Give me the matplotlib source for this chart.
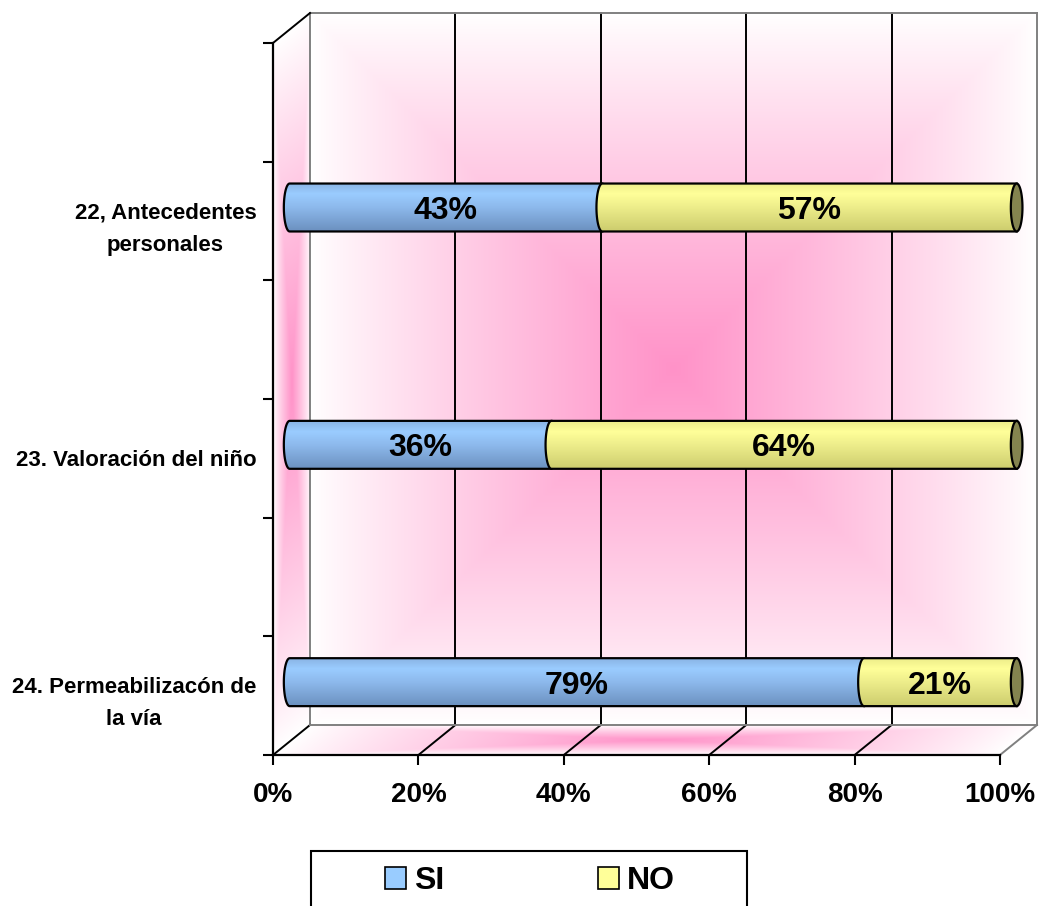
import numpy as np
import matplotlib
matplotlib.use("Agg")
import matplotlib.pyplot as plt
from matplotlib.path import Path
from matplotlib.patches import PathPatch, Patch, Rectangle
from matplotlib.transforms import Affine2D
from matplotlib.colors import LinearSegmentedColormap, to_rgb

# --- data ---
categories = ["24. Permeabilizacón de\nla vía",
              "23. Valoración del niño",
              "22, Antecedentes\npersonales"]
si_pct = [79, 36, 43]
no_pct = [21, 64, 57]
series_names = ["SI", "NO"]
x_ticks = [0, 20, 40, 60, 80, 100]

FONT = "Liberation Sans"

# --- 3d look ---
DX, DY = 5.09, 0.1264      # depth of the box, in data units
BAR_F = 0.45               # bars sit at this fraction of the depth
HALF_H = 0.101             # half thickness of a bar
CAP = 0.8                  # horizontal semi-axis of the cylinder ends
YLO, YHI = -0.25, 2.75

PINK = np.array(to_rgb("#FF92C8"))
WHITE = np.ones(3)


def wall_gradient(n=200):
    u = np.linspace(-1, 1, n)
    uu, vv = np.meshgrid(u, u)
    t = np.maximum(np.abs(uu), np.abs(vv))
    w = np.clip(1 - t, 0, 1) ** 0.9
    return WHITE * (1 - w[..., None]) + PINK * w[..., None]


fig = plt.figure(figsize=(10.39, 9.06), dpi=100)
ax = fig.add_axes([273 / 1039, 151 / 906, 727 / 1039, 712 / 906])
ax.patch.set_visible(False)

grad = wall_gradient()


def wall(matrix, corners):
    im = ax.imshow(grad, extent=(0, 1, 0, 1), zorder=0, interpolation="bilinear",
                   transform=Affine2D(np.array(matrix)) + ax.transData)
    im.set_clip_box(fig.bbox)
    im.set_clip_path(Path(corners + [corners[0]], closed=True), ax.transData)


# back wall, side wall, floor
wall([[100, 0, DX], [0, YHI - YLO, YLO + DY], [0, 0, 1]],
     [(DX, YLO + DY), (100 + DX, YLO + DY), (100 + DX, YHI + DY), (DX, YHI + DY)])
wall([[DX, 0, 0], [DY, YHI - YLO, YLO], [0, 0, 1]],
     [(0, YLO), (DX, YLO + DY), (DX, YHI + DY), (0, YHI)])
wall([[100, DX, 0], [0, DY, YLO], [0, 0, 1]],
     [(0, YLO), (100, YLO), (100 + DX, YLO + DY), (DX, YLO + DY)])

# grid on the back wall and floor
for x in x_ticks:
    c = "#808080" if x in (0, 100) else "black"
    ax.plot([x + DX, x + DX], [YLO + DY, YHI + DY], color=c, lw=1.4,
            zorder=1, clip_on=False)
    fc = "#808080" if x == 100 else "black"
    ax.plot([x, x + DX], [YLO, YLO + DY], color=fc, lw=1.4, zorder=1, clip_on=False)
ax.plot([DX, 100 + DX], [YHI + DY, YHI + DY], color="#808080", lw=1.4, zorder=1, clip_on=False)
ax.plot([DX, 100 + DX], [YLO + DY, YLO + DY], color="#808080", lw=1.4, zorder=1, clip_on=False)
ax.plot([0, DX], [YHI, YHI + DY], color="black", lw=1.4, zorder=1, clip_on=False)

blue_cmap = LinearSegmentedColormap.from_list(
    "blue", [(0, "#8AB4E4"), (0.22, "#9ACCFF"), (0.5, "#8DB9EC"), (1, "#6C91C0")])
yellow_cmap = LinearSegmentedColormap.from_list(
    "yellow", [(0, "#EDED8A"), (0.22, "#FFFF99"), (0.55, "#EAEA88"), (1, "#CDCD6E")])
vert = np.linspace(0, 1, 100)[:, None] * np.ones((1, 2))


def segment_path(x0, x1, yc):
    th = np.linspace(np.pi / 2, 3 * np.pi / 2, 30)
    left = np.column_stack([x0 + CAP * np.cos(th), yc + HALF_H * np.sin(th)])
    pts = np.vstack([[[x1, yc + HALF_H]], left, [[x1, yc - HALF_H]], [[x1, yc + HALF_H]]])
    codes = [Path.MOVETO] + [Path.LINETO] * (len(pts) - 2) + [Path.CLOSEPOLY]
    return Path(pts, codes)


def draw_segment(x0, x1, yc, cmap, z):
    patch = PathPatch(segment_path(x0, x1, yc), facecolor="none", edgecolor="black",
                      lw=1.6, zorder=z + 0.5, clip_on=False)
    ax.add_patch(patch)
    im = ax.imshow(vert, cmap=cmap, vmin=0, vmax=1, aspect="auto",
                   extent=(x0 - CAP, x1, yc - HALF_H, yc + HALF_H),
                   zorder=z, interpolation="bilinear")
    im.set_clip_box(fig.bbox)
    im.set_clip_path(patch)


for i, (s, n) in enumerate(zip(si_pct, no_pct)):
    yc = i + BAR_F * DY
    xs = BAR_F * DX
    draw_segment(xs, xs + s, yc, blue_cmap, 3)
    draw_segment(xs + s, xs + s + n, yc, yellow_cmap, 4)
    th = np.linspace(0, 2 * np.pi, 60)
    cap_pts = np.column_stack([xs + s + n + CAP * np.cos(th), yc + HALF_H * np.sin(th)])
    ax.add_patch(PathPatch(Path(cap_pts, closed=True), facecolor="#84844F",
                           edgecolor="black", lw=1.6, zorder=5, clip_on=False))
    ax.text(xs + s / 2, yc, f"{s}%", ha="center", va="center_baseline",
            fontsize=23, fontweight="bold", family=FONT, zorder=6)
    ax.text(xs + s + n / 2, yc, f"{n}%", ha="center", va="center_baseline",
            fontsize=23, fontweight="bold", family=FONT, zorder=6)

ax.set_xlim(0, 100)
ax.set_ylim(YLO, YHI)

# axes, ticks and labels
for side_name in ("top", "right"):
    ax.spines[side_name].set_visible(False)
for side_name in ("left", "bottom"):
    ax.spines[side_name].set_linewidth(1.6)
    ax.spines[side_name].set_zorder(2)

ax.set_xticks(x_ticks)
ax.set_xticklabels([f"{x}%" for x in x_ticks], fontsize=20,
                   fontweight="bold", family=FONT)
ax.tick_params(axis="x", length=7.2, width=1.5, pad=12)

ax.set_yticks(range(len(categories)))
ax.set_yticklabels(categories, fontsize=16, fontweight="bold", family=FONT,
                   linespacing=1.7)
for lab in ax.get_yticklabels():
    lab.set_multialignment("center")
ax.set_yticks(np.arange(YLO, YHI + 0.01, 0.5), minor=True)
ax.tick_params(axis="y", which="major", length=0, pad=12)
ax.tick_params(axis="y", which="minor", length=7.2, width=1.5)

# legend
handles = [Patch(facecolor="#99CCFF", edgecolor="black", lw=1.2),
           Patch(facecolor="#FFFF99", edgecolor="black", lw=1.2)]
fig.legend(handles, series_names, loc="center", ncol=2, frameon=False,
           bbox_to_anchor=(530 / 1039, 1 - 881 / 906),
           prop={"family": FONT, "weight": "bold", "size": 23},
           handlelength=0.66, handleheight=0.66, handletextpad=0.25,
           columnspacing=4.8)
fig.add_artist(Rectangle((311 / 1039, -5 / 906), 436 / 1039, 60 / 906,
                         transform=fig.transFigure, fill=False,
                         edgecolor="black", lw=1.5))

fig.savefig("out.png", dpi=100)
